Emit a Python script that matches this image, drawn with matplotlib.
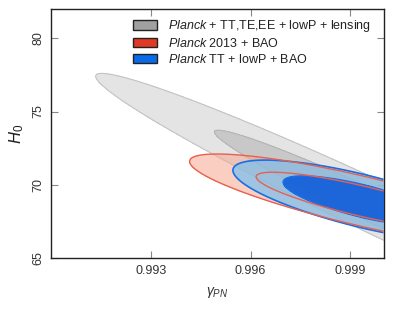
import numpy as np
import matplotlib
matplotlib.use("Agg")
import matplotlib.pyplot as plt
from matplotlib.patches import Patch

plt.rcParams['font.family'] = ['Liberation Sans', 'DejaVu Sans']
plt.rcParams['mathtext.fontset'] = 'custom'
plt.rcParams['mathtext.rm'] = 'Liberation Sans'
plt.rcParams['mathtext.it'] = 'Liberation Sans:italic'
plt.rcParams['mathtext.bf'] = 'Liberation Sans:bold'

# ---- data: Gaussian approximations of the posteriors (gamma_PN, H0) ----
labels = [r"$\mathit{Planck}$ + TT,TE,EE + lowP + lensing",
          r"$\mathit{Planck}$ 2013 + BAO",
          r"$\mathit{Planck}$ TT + lowP + BAO"]
gamma_mean = [1.0005, 0.99930, 0.99935]
h0_mean = [67.66, 68.91, 68.90]
gamma_sigma = [0.003683, 0.002064, 0.001560]
h0_sigma = [4.00, 1.283, 1.12]
corr = [-0.980, -0.84, -0.75]
gamma_max = 1.000          # physical prior bound
xticks = [0.993, 0.996, 0.999]
yticks = [65, 70, 75, 80]
xlim = (0.990, 1.000)
ylim = (65, 82)
chi2_levels = [6.18, 2.30]  # 95% and 68% 2D levels

fig = plt.figure(figsize=(3.93, 3.10), dpi=100)
ax = fig.add_axes([51/393, 52/310, (383.5-51)/393, (258-9)/310])

g = np.linspace(xlim[0], gamma_max, 600)
h = np.linspace(ylim[0], ylim[1], 600)
G, Hh = np.meshgrid(g, h)

def density(i):
    dx = (G - gamma_mean[i]) / gamma_sigma[i]
    dy = (Hh - h0_mean[i]) / h0_sigma[i]
    r = corr[i]
    m2 = (dx**2 - 2*r*dx*dy + dy**2) / (1 - r**2)
    return np.exp(-0.5*m2)

lev = [np.exp(-0.5*c) for c in chi2_levels] + [1.01]

# gray
d0 = density(0)
ax.contourf(G, Hh, d0, levels=lev, colors=['#e4e4e4', '#c8c8c8'], zorder=1)
ax.contour(G, Hh, d0, levels=lev[:2], colors=['#c4c4c4', '#b4b4b4'], linewidths=0.8, zorder=1.5)
# red fill
d1 = density(1)
ax.contourf(G, Hh, d1, levels=lev, colors=['#f6a890', '#f6a890'], alpha=0.55, zorder=2)
# blue fill
d2 = density(2)
ax.contourf(G, Hh, d2, levels=lev[:2], colors=['#78c0f0'], alpha=0.7, zorder=3)
ax.contourf(G, Hh, d2, levels=lev[1:], colors=['#1262dc'], alpha=0.95, zorder=3.2)
ax.contour(G, Hh, d2, levels=lev[:2], colors=['#1a6ee6'], linewidths=1.2, zorder=4)
ax.contour(G, Hh, d1, levels=lev[:2], colors=['#e8604e'], linewidths=1.0, zorder=5)

ax.set_xlim(*xlim)
ax.set_ylim(*ylim)
ax.set_xticks(xticks)
ax.set_xticklabels([f"{t:.3f}" for t in xticks])
ax.set_yticks(yticks)
ax.set_yticklabels([str(t) for t in yticks], rotation=90, va='center')
ax.tick_params(direction='in', length=5, width=0.8, color='#888888',
               labelsize=9, labelcolor='#333333', top=True, right=True, pad=5)
for s in ax.spines.values():
    s.set_linewidth(1.0)
    s.set_color('#222222')

ax.set_xlabel(r"$\gamma_{PN}$", fontsize=10, color='#333333', labelpad=6)
ax.set_ylabel(r"$H_0$", fontsize=12, color='#222222', labelpad=4)

handles = [Patch(facecolor='#a0a0a0', edgecolor='#222222', lw=1),
           Patch(facecolor='#e03a24', edgecolor='#222222', lw=1),
           Patch(facecolor='#0a6ae8', edgecolor='#222222', lw=1)]
leg = ax.legend(handles, labels, loc='upper right', frameon=False, fontsize=9,
                handlelength=1.9, handleheight=0.75, handletextpad=0.9,
                labelspacing=0.22, borderaxespad=0.45, borderpad=0.3,
                bbox_to_anchor=(0.99, 1.0))
for t in leg.get_texts():
    t.set_color('#222222')

fig.savefig("out.png", dpi=100)
